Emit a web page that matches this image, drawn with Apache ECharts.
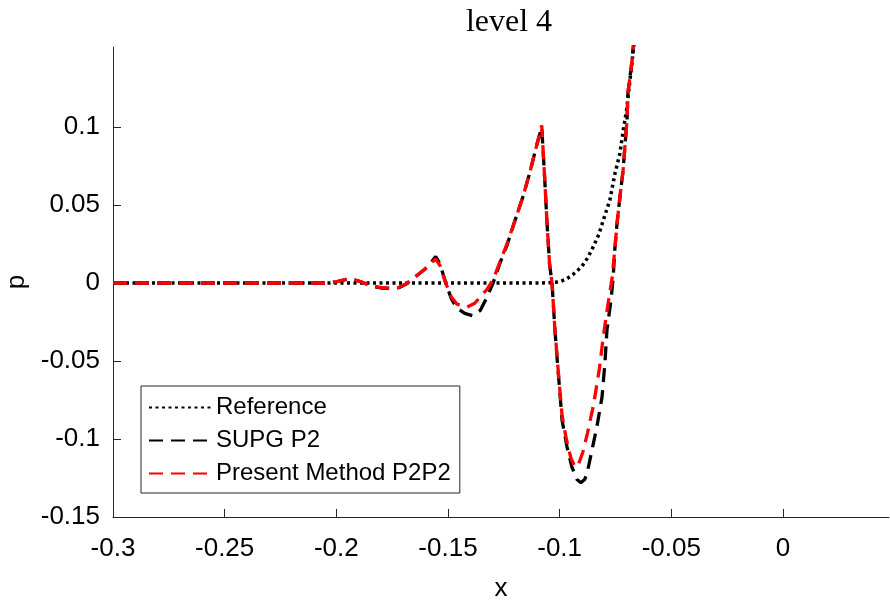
<!DOCTYPE html>
<html>
<head>
<meta charset="utf-8">
<script src="https://cdn.jsdelivr.net/npm/echarts@6/dist/echarts.min.js"></script>
<style>html,body{margin:0;padding:0;background:#fff}#c{width:890px;height:605px}</style>
</head>
<body>
<div id="c"></div>
<script>
// ---- data ----
const xTicks = [-0.3, -0.25, -0.2, -0.15, -0.1, -0.05, 0];
const yTicks = [-0.15, -0.1, -0.05, 0, 0.05, 0.1];

const refX = [-0.3, -0.11, -0.105, -0.1, -0.097, -0.094, -0.0901, -0.0875, -0.0849, -0.0825, -0.0804, -0.0775, -0.0752, -0.073, -0.0715, -0.07, -0.0685, -0.067, -0.066];
const refY = [0, 0, 0.0002, 0.0008, 0.0025, 0.0055, 0.0105, 0.016, 0.0233, 0.031, 0.0404, 0.0532, 0.0703, 0.0831, 0.098, 0.111, 0.13, 0.149, 0.16];

const supgX = [-0.3, -0.205, -0.2, -0.194, -0.189, -0.184, -0.18, -0.176, -0.172, -0.1685, -0.1655, -0.1625, -0.159, -0.1555, -0.1535, -0.151, -0.1485, -0.146, -0.1425, -0.139, -0.1355, -0.1325, -0.1298, -0.1267, -0.1236, -0.12, -0.1165, -0.1135, -0.1105, -0.108, -0.1068, -0.1057, -0.1045, -0.1034, -0.1021, -0.1007, -0.0989, -0.0967, -0.0945, -0.0922, -0.0905, -0.0888, -0.0877, -0.0855, -0.0833, -0.081, -0.0797, -0.0788, -0.077, -0.0761, -0.0752, -0.0743, -0.073, -0.0716, -0.0698, -0.0694, -0.0676, -0.0665];
const supgY = [0, 0, 0.0008, 0.0028, 0.0008, -0.002, -0.0032, -0.0035, -0.003, -0.0005, 0.003, 0.0064, 0.0105, 0.017, 0.012, 0, -0.01, -0.016, -0.0195, -0.021, -0.0175, -0.009, 0, 0.0128, 0.024, 0.04, 0.055, 0.07, 0.087, 0.1, 0.07, 0.04, 0.012, 0, -0.03, -0.056, -0.088, -0.105, -0.118, -0.126, -0.128, -0.126, -0.122, -0.107, -0.092, -0.073, -0.051, -0.03, -0.011, 0.002, 0.023, 0.038, 0.055, 0.072, 0.105, 0.122, 0.142, 0.16];

const presX = [-0.3, -0.205, -0.2, -0.194, -0.189, -0.184, -0.18, -0.176, -0.172, -0.1685, -0.1655, -0.1625, -0.159, -0.1555, -0.1535, -0.151, -0.1485, -0.146, -0.1415, -0.138, -0.135, -0.1325, -0.1298, -0.1267, -0.1236, -0.12, -0.1165, -0.1135, -0.1105, -0.108, -0.1068, -0.1057, -0.1045, -0.1034, -0.1021, -0.1007, -0.0989, -0.097, -0.095, -0.0931, -0.0915, -0.0895, -0.0875, -0.0848, -0.0822, -0.0805, -0.0785, -0.0765, -0.0752, -0.0743, -0.073, -0.0716, -0.0698, -0.0694, -0.0676, -0.0665];
const presY = [0, 0, 0.0008, 0.003, 0.0008, -0.0018, -0.003, -0.0033, -0.0028, -0.0003, 0.003, 0.0064, 0.0105, 0.0155, 0.011, 0, -0.009, -0.0135, -0.0155, -0.013, -0.008, -0.004, 0.002, 0.0135, 0.025, 0.04, 0.055, 0.07, 0.087, 0.101, 0.07, 0.04, 0.012, 0, -0.03, -0.055, -0.085, -0.1, -0.112, -0.118, -0.116, -0.108, -0.096, -0.078, -0.055, -0.035, -0.015, 0.003, 0.023, 0.038, 0.055, 0.072, 0.105, 0.122, 0.142, 0.16];

const names = ['Reference', 'SUPG P2', 'Present Method P2P2'];
// ----------------------------------------------

const zip = (xs, ys) => xs.map((x, i) => [x, ys[i]]);
const fmt = v => String(Math.round(v * 100) / 100);
const axisColor = '#262626';
const sans = "'Liberation Sans', Arial, sans-serif";

const chart = echarts.init(document.getElementById('c'), null, {renderer: 'canvas'});
chart.setOption({
  animation: false,
  backgroundColor: '#fff',
  title: {
    text: 'level 4',
    left: 504,
    top: 2,
    textAlign: 'center',
    textStyle: {fontFamily: "'Liberation Serif', 'DejaVu Serif', serif", fontWeight: 'normal', fontSize: 32, color: '#000'}
  },
  grid: {left: 113, right: 1, top: 47, bottom: 88, containLabel: false, outerBoundsMode: 'none'},
  xAxis: {
    type: 'value', min: -0.3, max: 0.0475,
    name: 'x', nameLocation: 'middle', nameGap: 59,
    nameTextStyle: {fontFamily: sans, fontSize: 26, color: '#000'},
    axisLine: {onZero: false, lineStyle: {color: axisColor, width: 1}},
    axisTick: {inside: true, length: 8, customValues: xTicks, lineStyle: {color: axisColor}},
    axisLabel: {customValues: xTicks, formatter: fmt, margin: 19, fontFamily: sans, fontSize: 26, color: '#000'},
    splitLine: {show: false}
  },
  yAxis: {
    type: 'value', min: -0.15, max: 0.1513,
    name: 'p', nameLocation: 'middle', nameGap: 80, nameRotate: 90,
    nameTextStyle: {fontFamily: sans, fontSize: 26, color: '#000'},
    axisLine: {show: true, onZero: false, lineStyle: {color: axisColor, width: 1}},
    axisTick: {show: true, inside: true, length: 8, customValues: yTicks, lineStyle: {color: axisColor}},
    axisLabel: {customValues: yTicks, formatter: fmt, margin: 13, fontFamily: sans, fontSize: 26, color: '#000'},
    splitLine: {show: false}
  },
  legend: {
    orient: 'vertical',
    left: 141, top: 386,
    padding: [9, 9, 7, 7],
    itemWidth: 62, itemHeight: 14, itemGap: 8,
    borderColor: axisColor, borderWidth: 1, borderRadius: 0,
    backgroundColor: '#fff',
    itemStyle: {opacity: 0},
    textStyle: {fontFamily: sans, fontSize: 24, color: '#000', lineHeight: 25},
    data: names
  },
  series: [
    {name: names[0], type: 'line', data: zip(refX, refY), symbol: 'none', clip: true,
     lineStyle: {color: '#000', width: 3.5, type: [3, 3.5], cap: 'butt'}, z: 2},
    {name: names[1], type: 'line', data: zip(supgX, supgY), symbol: 'none', clip: true,
     lineStyle: {color: '#000', width: 3.3, type: [14, 8], cap: 'butt'}, z: 3},
    {name: names[2], type: 'line', data: zip(presX, presY), symbol: 'none', clip: true,
     lineStyle: {color: '#ff0000', width: 3.3, type: [14, 8], cap: 'butt'}, z: 4}
  ]
});
</script>
</body>
</html>
